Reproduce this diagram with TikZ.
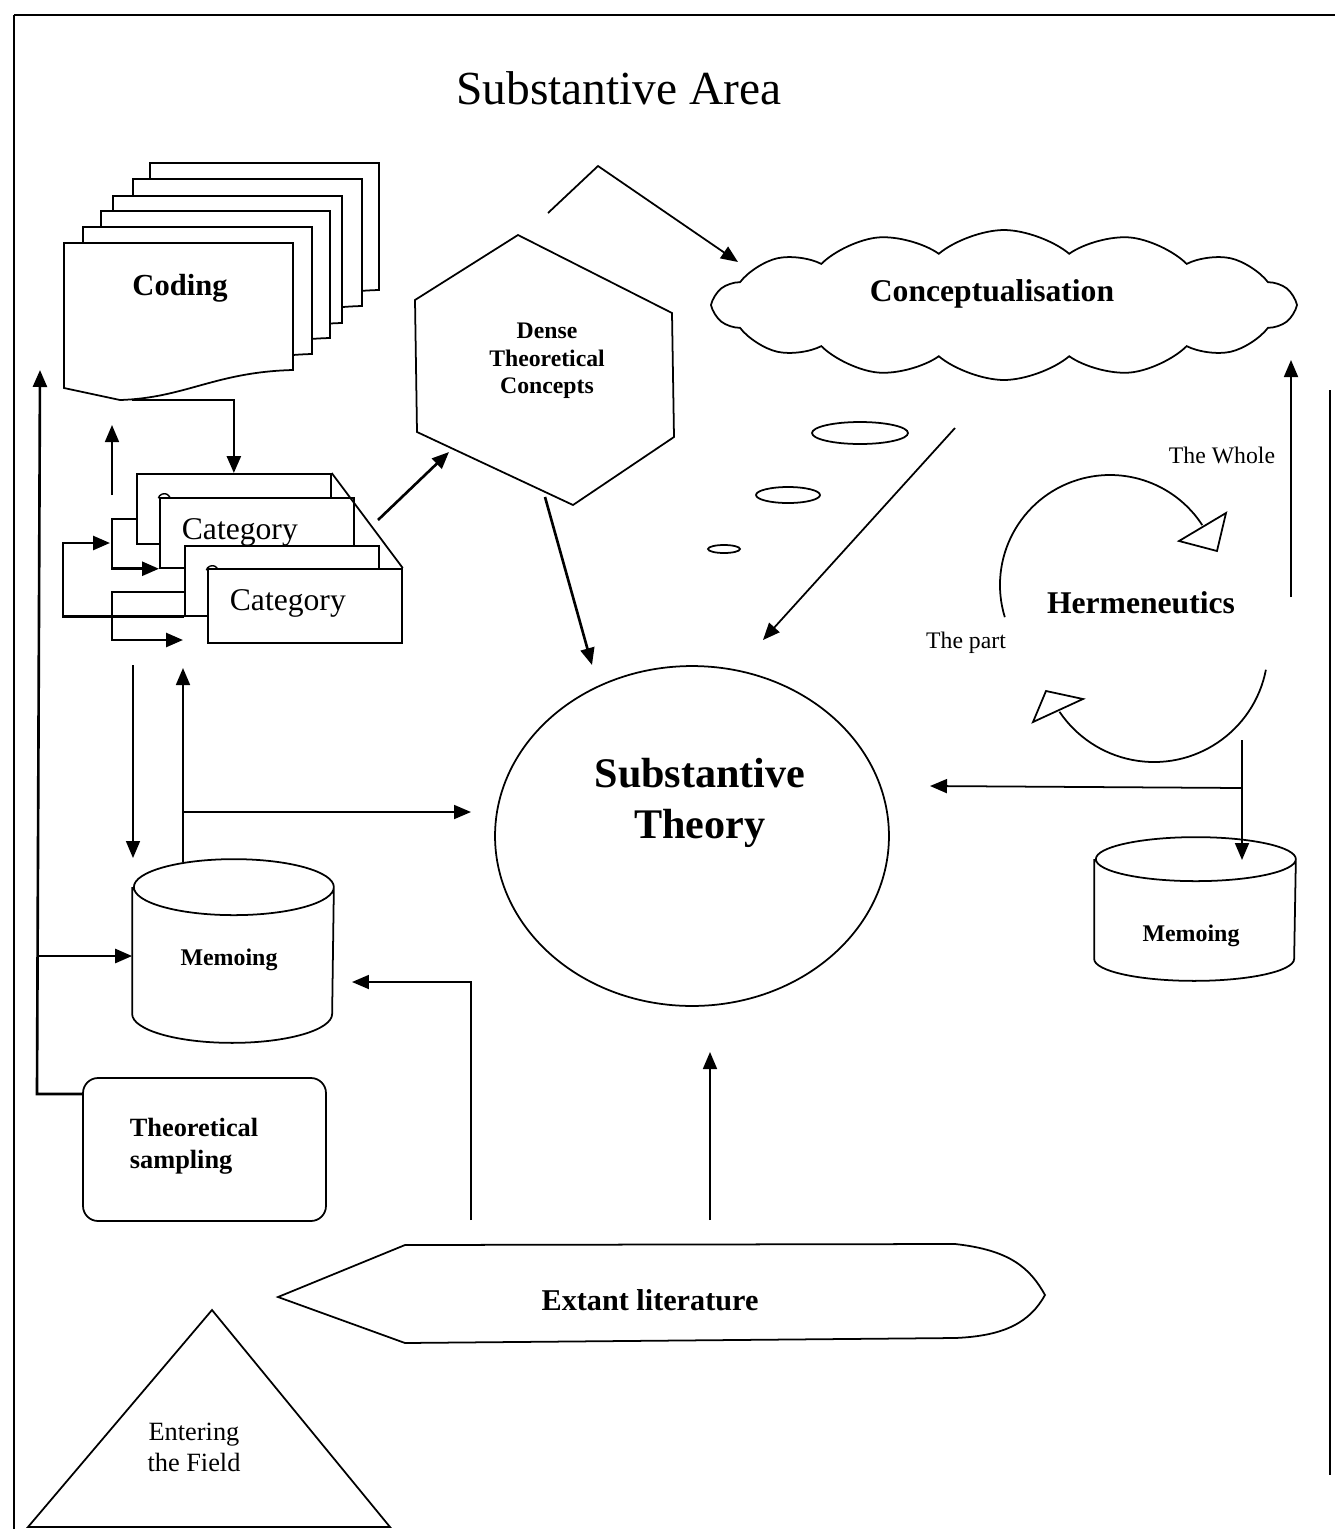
\documentclass[tikz,border=0pt]{standalone}
\usepackage{fontspec}
\setmainfont{Liberation Serif}
\usepackage{tikz}
\usetikzlibrary{shapes.geometric,shapes.symbols,arrows.meta}
\tikzset{
  arr/.style={-{Triangle[length=0.34cm,width=0.28cm]}},
  heavy/.style={line width=1.5pt},
  ttl/.style={font={\fontsize{27pt}{32pt}\selectfont}},
  codefont/.style={font={\fontsize{17.4pt}{20pt}\selectfont\bfseries}},
  catfont/.style={font={\fontsize{18pt}{21pt}\selectfont}},
  catbox/.style={draw,fill=white,minimum width=3.88cm},
  densefont/.style={align=center,font={\fontsize{13.5pt}{15.6pt}\selectfont\bfseries}},
  cloudfont/.style={font={\fontsize{18pt}{21pt}\selectfont\bfseries}},
  hermfont/.style={font={\fontsize{18pt}{21pt}\selectfont\bfseries}},
  smallfont/.style={font={\fontsize{13.5pt}{16pt}\selectfont}},
  theoryfont/.style={align=center,font={\fontsize{24pt}{29pt}\selectfont\bfseries}},
  memofont/.style={font={\fontsize{13.6pt}{16pt}\selectfont\bfseries}},
  memobox/.style={minimum width=4cm},
  sampfont/.style={align=left,font={\fontsize{15pt}{18.2pt}\selectfont\bfseries}},
  extfont/.style={font={\fontsize{17.2pt}{20pt}\selectfont\bfseries}},
  fieldfont/.style={align=center,font={\fontsize{15pt}{17.6pt}\selectfont}}
}

\begin{document}
\begin{tikzpicture}[x=0.02cm, y=0.02cm, line width=1pt]
\tikzstyle{every node}+=[inner sep=0pt]
\useasboundingbox (0,0) rectangle (1335,-1529);

% frame
\draw (14,-15) -- (1335,-15);
\draw (14,-15) -- (14,-1529);
\draw (1330,-390) -- (1330,-1475);
\node[ttl] (area) at (619,-88) {Substantive Area};

% coding pages, back to front
\foreach \dx/\dy in {86/80, 69/64, 49/47, 37/32, 19/16, 0/0}
  \filldraw[fill=white] (64+\dx,-243+\dy) -- (293+\dx,-243+\dy) -- (293+\dx,-370+\dy)
    .. controls (215+\dx,-372+\dy) and (185+\dx,-398+\dy) .. (120+\dx,-400+\dy)
    -- (64+\dx,-388+\dy) -- cycle;
\node[codefont] (coding) at (180,-288) {Coding};
\coordinate (codeout) at (132,-400);

% category cards (back cards only show the top of their C)
\foreach \nm/\x/\y/\h/\t in {catA/136/473/70/0, catB/159/497/70/1, catC/184/545/70/0, catD/207/568/74/1} {
  \node[catbox, minimum height=\h*0.2mm, anchor=north west] (\nm) at (\x,-\y) {};
  \ifnum\t=1
    \node[catfont, anchor=base west] at (\x+22,-\y-42) {Category};
  \else
    \draw[line width=0.8pt] (\x+34,-\y-24) arc[start angle=20, end angle=175, x radius=6, y radius=5];
  \fi
}
\draw (catA.north east) -- (catD.north east);

\draw[arr, heavy] (codeout) -| (catA.north);
\draw[arr] (112,-495) -- (112,-425);
\draw[arr, heavy] (136,-519) -- (112,-519) |- (catB.south west);
\draw[arr, heavy] (catC.south west) -| (63,-543) -- (110,-543);
\draw[arr, heavy] (184,-592) -- (112,-592) |- (183,-640);

% memoing (left)
\node[memobox, minimum height=2.5cm] (memoL) at (233,-950.5) {};
\draw (memoL.north west) -- (memoL.south west) arc[start angle=180, end angle=360, x radius=100, y radius=29]
  -- (memoL.north east) arc[start angle=0, end angle=360, x radius=100, y radius=28];
\node[memofont] at (229,-960) {Memoing};
\draw[arr] (133,-665) -- (133,-858);
\draw[arr] (183,-862) -- (183,-668);
\draw[arr] (183,-812) -- (471,-812);

% theoretical sampling
\node[draw, rounded corners=0.3cm, minimum width=4.86cm, minimum height=2.86cm] (sampling) at (204.5,-1149.5) {};
\node[sampfont, anchor=west] at (129,-1146) {Theoretical\\sampling};
\draw[arr, heavy] (sampling.west |- 0,-1094) -- (37,-1094) -- (40,-370);
\draw[arr, heavy] (37,-956) -- (memoL.west |- 0,-956);

% dense theoretical concepts
\draw (518,-235) -- (672,-313) -- (674,-437) -- (573,-505) -- (417,-432) -- (415,-300) -- cycle;
\node[densefont] (dense) at (547,-361) {Dense\\Theoretical\\Concepts};
\draw[arr, heavy] (378,-520) -- (449,-452);
\draw[arr, heavy] (545,-497) -- (592,-665);

% conceptualisation
\node[cloud, draw, cloud puffs=14, cloud puff arc=80, cloud ignores aspect,
  minimum width=11.6cm, minimum height=3cm] (concept) at (1004,-305) {};
\node[cloudfont] at (992,-294) {Conceptualisation};
\draw[arr] (548,-213) -- (598,-166) -- (738,-262);
\draw (860,-433) ellipse [x radius=48, y radius=11];
\draw (788,-495) ellipse [x radius=32, y radius=8];
\draw (724,-549) ellipse [x radius=16, y radius=4];
\draw[arr] (955,-428) -- (763,-640);

% substantive theory
\node[ellipse, draw, minimum width=7.88cm, minimum height=6.8cm] (theory) at (692,-836) {};
\node[theoryfont] at (700,-803) {Substantive\\Theory};

% hermeneutics
\draw (1110,-585) ++(197:110) arc[start angle=197, end angle=33, radius=110];
\draw (1179,-541) -- (1226,-513) -- (1217,-551) -- cycle;
\draw (1154,-648) ++(-11:114) arc[start angle=-11, end angle=-146, radius=114];
\draw (1033,-722) -- (1046,-691) -- (1083,-699) -- cycle;
\node[hermfont] (herm) at (1141,-603) {Hermeneutics};
\node[smallfont] at (1222,-455) {The Whole};
\node[smallfont] at (966,-643) {The part};
\draw[arr] (1291,-597) -- (1291,-360);
\draw[arr] (1242,-740) -- (1242,-860);
\draw[arr] (1242,-788) -- (930,-786);

% memoing (right)
\node[memobox, minimum height=1.96cm] (memoR) at (1195,-909) {};
\draw (memoR.north west) -- (memoR.south west) arc[start angle=180, end angle=360, x radius=100, y radius=22]
  -- (memoR.north east) arc[start angle=0, end angle=360, x radius=100, y radius=22];
\node[memofont] at (1191,-936) {Memoing};

% extant literature
\draw (278,-1297) -- (405,-1245) -- (955,-1244) .. controls (1010,-1250) and (1030,-1268) .. (1045,-1295)
  .. controls (1030,-1322) and (1005,-1336) .. (955,-1338) -- (405,-1343) -- cycle;
\node[extfont] (extant) at (650,-1300) {Extant literature};
\draw[arr] (471,-1220) |- (352,-982);
\draw[arr] (710,-1220) -- (710,-1052);

% entering the field
\draw (212,-1310) -- (390,-1527) -- (28,-1527) -- cycle;
\node[fieldfont] (field) at (194,-1447) {Entering\\the Field};
\end{tikzpicture}
\end{document}
